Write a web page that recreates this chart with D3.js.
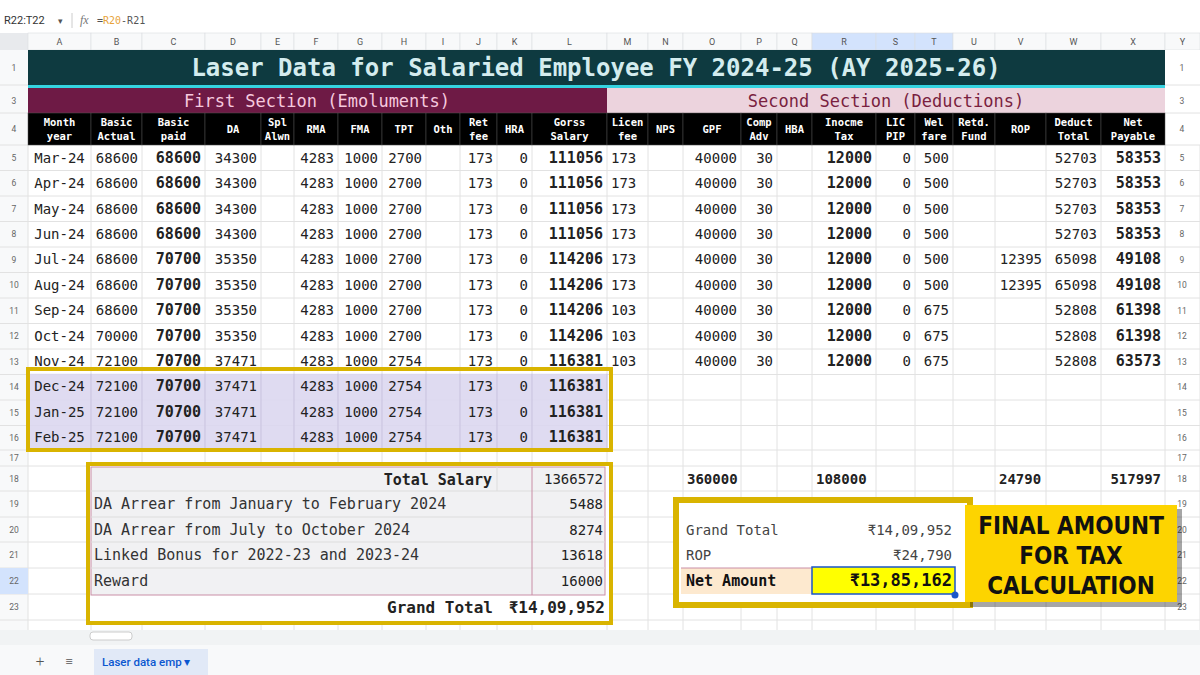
<!DOCTYPE html>
<html><head><meta charset="utf-8">
<script src="https://cdn.jsdelivr.net/npm/d3@7/dist/d3.min.js"></script>
<style>body{margin:0;background:#fff}svg{display:block}</style></head>
<body><svg id="c" width="1200" height="675"></svg>
<script>
const colLetters=["A","B","C","D","E","F","G","H","I","J","K","L","M","N","O","P","Q","R","S","T","U","V","W","X","Y"];
const colEdges=[28,91,142,205,261,294,338,382,426,460,497,532,607,648,683,741,777,812,876,915,953,995,1046,1101,1165,1200];
const headers=["Month\nyear","Basic\nActual","Basic\npaid","DA","Spl\nAlwn","RMA","FMA","TPT","Oth","Ret\nfee","HRA","Gorss\nSalary","Licen\nfee","NPS","GPF","Comp\nAdv","HBA","Inocme\nTax","LIC\nPIP","Wel\nfare","Retd.\nFund","ROP","Deduct\nTotal","Net\nPayable"];
const months=["Mar-24","Apr-24","May-24","Jun-24","Jul-24","Aug-24","Sep-24","Oct-24","Nov-24","Dec-24","Jan-25","Feb-25"];
const basicActual=[68600,68600,68600,68600,68600,68600,68600,70000,72100,72100,72100,72100];
const basicPaid=[68600,68600,68600,68600,70700,70700,70700,70700,70700,70700,70700,70700];
const da=[34300,34300,34300,34300,35350,35350,35350,35350,37471,37471,37471,37471];
const rma=[4283,4283,4283,4283,4283,4283,4283,4283,4283,4283,4283,4283];
const fma=[1000,1000,1000,1000,1000,1000,1000,1000,1000,1000,1000,1000];
const tpt=[2700,2700,2700,2700,2700,2700,2700,2700,2754,2754,2754,2754];
const retFee=[173,173,173,173,173,173,173,173,173,173,173,173];
const hra=[0,0,0,0,0,0,0,0,0,0,0,0];
const gross=[111056,111056,111056,111056,114206,114206,114206,114206,116381,116381,116381,116381];
const licenFee=[173,173,173,173,173,173,103,103,103];
const gpf=[40000,40000,40000,40000,40000,40000,40000,40000,40000];
const compAdv=[30,30,30,30,30,30,30,30,30];
const incomeTax=[12000,12000,12000,12000,12000,12000,12000,12000,12000];
const licPip=[0,0,0,0,0,0,0,0,0];
const welfare=[500,500,500,500,500,500,675,675,675];
const rop=[null,null,null,null,12395,12395,null,null,null];
const deductTotal=[52703,52703,52703,52703,65098,65098,52808,52808,52808];
const netPayable=[58353,58353,58353,58353,49108,49108,61398,61398,63573];
const totalsRow={O:"360000",R:"108000",V:"24790",X:"517997"};
const summaryLabels=["DA Arrear from January to February 2024","DA Arrear from July to October 2024","Linked Bonus for 2022-23 and 2023-24","Reward"];
const summaryValues=[5488,8274,13618,16000];
const totalSalary=1366572, grandTotal="₹14,09,952";
const netLabels=["Grand Total","ROP","Net Amount"];
const netValues=["₹14,09,952","₹24,790","₹13,85,162"];

const svg=d3.select("#c");
const mono="'DejaVu Sans Mono',monospace";
const x=d3.scaleOrdinal().domain(colLetters).range(colEdges.slice(0,25));
const xr=d3.scaleOrdinal().domain(colLetters).range(colEdges.slice(1));
const rowNums=[1,3,4,5,6,7,8,9,10,11,12,13,14,15,16,17,18,19,20,21,22,23];
const rowTops=[50,88,113,145,170.5,196,221.5,247,272.5,298,323.5,349,374.5,400,425.5,450,466,491,517,542,568,594];
const rowBots=[85,113,145,170.5,196,221.5,247,272.5,298,323.5,349,374.5,400,425.5,450,466,491,517,542,568,594,620];
const yT=d3.scaleOrdinal().domain(rowNums).range(rowTops);
const yB=d3.scaleOrdinal().domain(rowNums).range(rowBots);
const yC=r=>(yT(r)+yB(r))/2;
const dataRow=d3.scaleBand().domain(months).range([145,450]);

// top chrome
svg.append("rect").attr("width",1200).attr("height",33).attr("fill","#fff");
svg.append("text").attr("x",4).attr("y",24).attr("font-family","Roboto").attr("font-size",11).attr("fill","#333").text("R22:T22");
svg.append("text").attr("x",58).attr("y",24).attr("font-size",9).attr("fill","#555").text("▾");
svg.append("line").attr("x1",72).attr("x2",72).attr("y1",13).attr("y2",28).attr("stroke","#ccc");
svg.append("text").attr("x",80).attr("y",24).attr("font-family","serif").attr("font-style","italic").attr("font-size",12).attr("fill","#777").text("fx");
const fx=svg.append("text").attr("x",97).attr("y",24).attr("font-family",mono).attr("font-size",10);
fx.append("tspan").attr("fill","#555").text("=");fx.append("tspan").attr("fill","#e8a33a").text("R20");fx.append("tspan").attr("fill","#555").text("-R21");
// column header bar
svg.append("rect").attr("y",33).attr("width",1200).attr("height",17).attr("fill","#f8f9fa");
svg.append("rect").attr("y",33).attr("width",28).attr("height",17).attr("fill","#e8eaed");
colLetters.forEach(c=>{
  const sel=["R","S","T"].includes(c);
  svg.append("rect").attr("x",x(c)).attr("y",33).attr("width",xr(c)-x(c)).attr("height",17).attr("fill",sel?"#d3e3fd":"#f8f9fa").attr("stroke","#dadce0").attr("stroke-width",0.6);
  svg.append("text").attr("x",(x(c)+xr(c))/2).attr("y",45).attr("text-anchor","middle").attr("font-family","Roboto").attr("font-size",9).attr("fill","#555").text(c);
});
// row header
svg.append("rect").attr("x",0).attr("y",50).attr("width",28).attr("height",580).attr("fill","#f8f9fa");
svg.append("rect").attr("x",1165).attr("y",50).attr("width",35).attr("height",580).attr("fill","#fff");
// grid
colEdges.forEach(e=>svg.append("line").attr("x1",e).attr("x2",e).attr("y1",145).attr("y2",630).attr("stroke","#e2e2e2"));
rowNums.forEach(r=>{
  svg.append("line").attr("x1",0).attr("x2",1200).attr("y1",yB(r)).attr("y2",yB(r)).attr("stroke","#e2e2e2");
  const sel=r===22;
  svg.append("rect").attr("x",0).attr("y",yT(r)).attr("width",28).attr("height",yB(r)-yT(r)).attr("fill",sel?"#d3e3fd":"none");
  [14,1182].forEach(px=>svg.append("text").attr("x",px).attr("y",yC(r)+3).attr("text-anchor","middle").attr("font-family","Roboto").attr("font-size",8.5).attr("fill","#666").text(r));
});
// title
svg.append("rect").attr("x",28).attr("y",50).attr("width",1137).attr("height",35).attr("fill","#0e3a40");
svg.append("rect").attr("x",28).attr("y",85).attr("width",1137).attr("height",3).attr("fill","#35d3e0");
svg.append("text").attr("x",596).attr("y",76).attr("text-anchor","middle").attr("font-family",mono).attr("font-weight","bold").attr("font-size",24).attr("fill","#d4ecee").text("Laser Data for Salaried Employee FY 2024-25 (AY 2025-26)");
// sections
svg.append("rect").attr("x",28).attr("y",88).attr("width",579).attr("height",25).attr("fill","#6e1a45");
svg.append("rect").attr("x",607).attr("y",88).attr("width",558).attr("height",25).attr("fill","#ecd3dd");
svg.append("text").attr("x",317).attr("y",107).attr("text-anchor","middle").attr("font-family",mono).attr("font-size",17).attr("fill","#f6c9de").text("First Section (Emoluments)");
svg.append("text").attr("x",886).attr("y",107).attr("text-anchor","middle").attr("font-family",mono).attr("font-size",17).attr("fill","#7a1f40").text("Second Section (Deductions)");
// headers
headers.forEach((h,i)=>{
  const c=colLetters[i];
  svg.append("rect").attr("x",x(c)).attr("y",113).attr("width",xr(c)-x(c)).attr("height",32).attr("fill","#000").attr("stroke","#555").attr("stroke-width",0.5);
  const lines=h.split("\n");
  lines.forEach((l,j)=>svg.append("text").attr("x",(x(c)+xr(c))/2).attr("y",(lines.length===1?133:126+j*14)).attr("text-anchor","middle").attr("font-family",mono).attr("font-weight","bold").attr("font-size",10.5).attr("fill","#fff").text(l));
});
// highlight rows 14-16
svg.append("rect").attr("x",28).attr("y",dataRow("Dec-24")).attr("width",579).attr("height",dataRow.bandwidth()*3).attr("fill","#dcd7ef").attr("opacity",0.9);
colEdges.filter(e=>e<=607).forEach(e=>svg.append("line").attr("x1",e).attr("x2",e).attr("y1",dataRow("Dec-24")).attr("y2",450).attr("stroke","#c9c3df"));
// data
function cell(col,row,val,opt={}){
  if(val===null||val===undefined)return;
  const anchor=opt.anchor||"end";
  const px=anchor==="end"?xr(col)-4:anchor==="start"?x(col)+4:(x(col)+xr(col))/2;
  svg.append("text").attr("x",px).attr("y",row).attr("text-anchor",anchor).attr("font-family",mono).attr("font-weight",opt.bold?"bold":"normal").attr("font-size",opt.size||14).attr("fill",opt.fill||"#222").text(val);
}
months.forEach((m,i)=>{
  const y=dataRow(m)+dataRow.bandwidth()/2+5;
  cell("A",y,m,{anchor:"middle"});
  cell("B",y,basicActual[i]);cell("C",y,basicPaid[i],{bold:true,size:15});
  cell("D",y,da[i]);cell("F",y,rma[i]);cell("G",y,fma[i]);cell("H",y,tpt[i]);
  cell("J",y,retFee[i]);cell("K",y,hra[i]);cell("L",y,gross[i],{bold:true,size:15});
  if(i<licenFee.length){
    cell("M",y,licenFee[i],{anchor:"start"});cell("O",y,gpf[i]);cell("P",y,compAdv[i]);
    cell("R",y,incomeTax[i],{bold:true,size:15});cell("S",y,licPip[i]);cell("T",y,welfare[i]);
    cell("V",y,rop[i]);cell("W",y,deductTotal[i]);cell("X",y,netPayable[i],{bold:true,size:15});
  }
});
svg.append("rect").attr("x",28).attr("y",369).attr("width",583).attr("height",81).attr("fill","none").attr("stroke","#d9b400").attr("stroke-width",4);
// totals row 18
Object.entries(totalsRow).forEach(([c,v])=>cell(c,yC(18)+5,v,{bold:true,anchor:c==="X"?"end":"start"}));
// left summary box
svg.append("rect").attr("x",88).attr("y",464).attr("width",523).attr("height",159).attr("fill","#fff").attr("stroke","#d9b400").attr("stroke-width",4);
svg.append("rect").attr("x",91).attr("y",467).attr("width",514).attr("height",128).attr("fill","#f1f1f3").attr("stroke","#c98ea6");
[19,20,21,22].forEach(r=>svg.append("line").attr("x1",91).attr("x2",605).attr("y1",yT(r)).attr("y2",yT(r)).attr("stroke","#ddd"));
svg.append("line").attr("x1",532).attr("x2",532).attr("y1",467).attr("y2",595).attr("stroke","#c98ea6");
svg.append("line").attr("x1",497).attr("x2",497).attr("y1",467).attr("y2",491).attr("stroke","#ddd");
svg.append("text").attr("x",492).attr("y",yC(18)+6).attr("text-anchor","end").attr("font-family",mono).attr("font-weight","bold").attr("font-size",15).attr("fill","#222").text("Total Salary");
cell("L",yC(18)+5,totalSalary);
summaryLabels.forEach((l,i)=>{
  const r=19+i;
  svg.append("text").attr("x",94).attr("y",yC(r)+5).attr("font-family",mono).attr("font-size",15).attr("fill","#333").text(l);
  cell("L",yC(r)+5,summaryValues[i]);
});
svg.append("text").attr("x",493).attr("y",yC(23)+6).attr("text-anchor","end").attr("font-family",mono).attr("font-weight","bold").attr("font-size",16).attr("fill","#222").text("Grand Total");
svg.append("text").attr("x",605).attr("y",yC(23)+6).attr("text-anchor","end").attr("font-family",mono).attr("font-weight","bold").attr("font-size",16).attr("fill","#222").text(grandTotal);
// right box
svg.append("rect").attr("x",676).attr("y",500).attr("width",294).attr("height",105).attr("fill","#fff").attr("stroke","#d9b400").attr("stroke-width",6);
svg.append("rect").attr("x",681).attr("y",568).attr("width",131).attr("height",26).attr("fill","#fde9cf");
svg.append("line").attr("x1",681).attr("x2",812).attr("y1",568).attr("y2",568).attr("stroke","#c98ea6");
svg.append("rect").attr("x",812).attr("y",567).attr("width",143).attr("height",27).attr("fill","#ffff00").attr("stroke","#1a56c9").attr("stroke-width",1.5);
svg.append("circle").attr("cx",955).attr("cy",595).attr("r",3.5).attr("fill","#1a56c9");
netLabels.forEach((l,i)=>{
  const r=20+i,last=i===2;
  svg.append("text").attr("x",686).attr("y",yC(r)+5).attr("font-family",mono).attr("font-weight",last?"bold":"normal").attr("font-size",last?15:14).attr("fill",last?"#111":"#444").text(l);
  svg.append("text").attr("x",952).attr("y",yC(r)+5).attr("text-anchor","end").attr("font-family",mono).attr("font-weight",last?"bold":"normal").attr("font-size",last?17:14).attr("fill",last?"#111":"#444").text(netValues[i]);
});
// callout
svg.append("rect").attr("x",970).attr("y",509).attr("width",212).attr("height",98).attr("fill","#000").attr("opacity",0.35);
svg.append("rect").attr("x",965).attr("y",505).attr("width",212).attr("height",97).attr("fill","#fdd400");
["FINAL AMOUNT","FOR TAX","CALCULATION"].forEach((t,i)=>svg.append("text").attr("x",1071).attr("y",534+i*30).attr("text-anchor","middle").attr("font-family","'DejaVu Sans Condensed',sans-serif").attr("font-weight","bold").attr("font-size",24).attr("fill","#111").text(t));
// bottom chrome
svg.append("rect").attr("y",630).attr("width",1200).attr("height",15).attr("fill","#f1f3f4");
svg.append("rect").attr("x",90).attr("y",632).attr("width",42).attr("height",8).attr("rx",3).attr("fill","#fff").attr("stroke","#ccc");
svg.append("rect").attr("y",645).attr("width",1200).attr("height",30).attr("fill","#f8f9fa");
svg.append("text").attr("x",40).attr("y",667).attr("text-anchor","middle").attr("font-size",16).attr("fill","#555").text("+");
svg.append("text").attr("x",69).attr("y",666).attr("text-anchor","middle").attr("font-size",13).attr("fill","#555").text("≡");
svg.append("rect").attr("x",94).attr("y",649).attr("width",114).attr("height",26).attr("fill","#e1e9f7");
svg.append("text").attr("x",102).attr("y",666).attr("font-family","Roboto").attr("font-weight","500").attr("font-size",11.5).attr("fill","#0b57d0").text("Laser data emp ▾");
</script></body></html>
